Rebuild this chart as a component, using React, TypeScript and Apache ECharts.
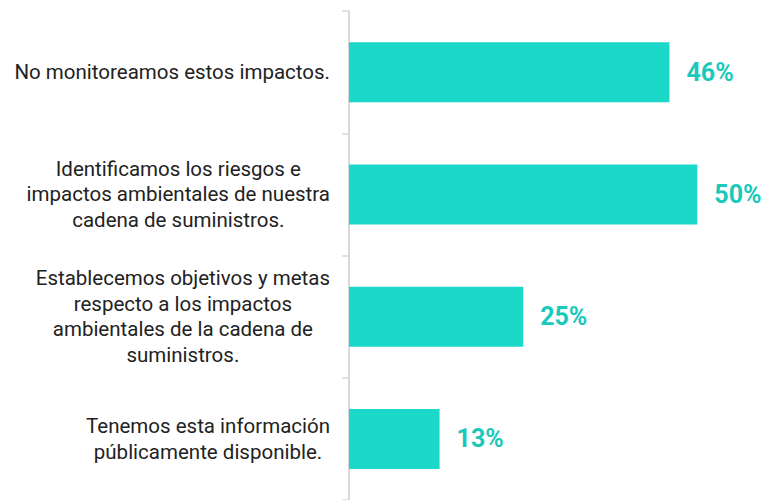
import React, { useEffect, useRef } from "react";
import * as echarts from "echarts";

const categories: string[][] = [
  ["No monitoreamos estos impactos."],
  ["Identificamos los riesgos e", "impactos ambientales de nuestra", "cadena de suministros."],
  ["Establecemos objetivos y metas", "respecto a los impactos", "ambientales de la cadena de", "suministros."],
  ["Tenemos esta información", "públicamente disponible."],
];
const values: number[] = [46, 50, 25, 13];

const BAR = "#1BD8C9";
const LABEL = "#19C9BB";

export default function App() {
  const ref = useRef<HTMLDivElement>(null);
  useEffect(() => {
    if (!ref.current) return;
    const chart = echarts.init(ref.current, undefined, { renderer: "svg" });
    const names = categories.map((c) => c.join("\n"));
    chart.setOption({
      animation: false,
      grid: { left: 349, right: 2, top: 11, bottom: -2, containLabel: false },
      xAxis: { type: "value", min: 0, max: 60, show: false },
      yAxis: {
        type: "category",
        inverse: true,
        data: names,
        axisLine: { show: true, lineStyle: { color: "#d9d9d9", width: 2 } },
        axisTick: { show: true, length: 7, lineStyle: { color: "#d9d9d9", width: 1.5 } },
        axisLabel: {
          margin: 19,
          align: "right",
          formatter: (v: string) => v.split("\n").map((l) => `{c|${l}}`).join("\n"),
          rich: {
            c: {
              align: "center",
              fontFamily: "Roboto",
              fontSize: 20.5,
              lineHeight: 25.5,
              color: "#222222",
            },
          },
        },
      },
      series: [
        {
          type: "bar",
          data: values,
          barWidth: 60,
          itemStyle: { color: BAR },
          label: {
            show: true,
            position: "right",
            distance: 17,
            formatter: "{c}%",
            fontFamily: "Roboto",
            fontWeight: "bold",
            fontSize: 25,
            color: LABEL,
          },
        },
      ],
    });
    return () => chart.dispose();
  }, []);
  return <div ref={ref} style={{ width: 769, height: 500, position: "absolute", left: 0, top: 0 }} />;
}
